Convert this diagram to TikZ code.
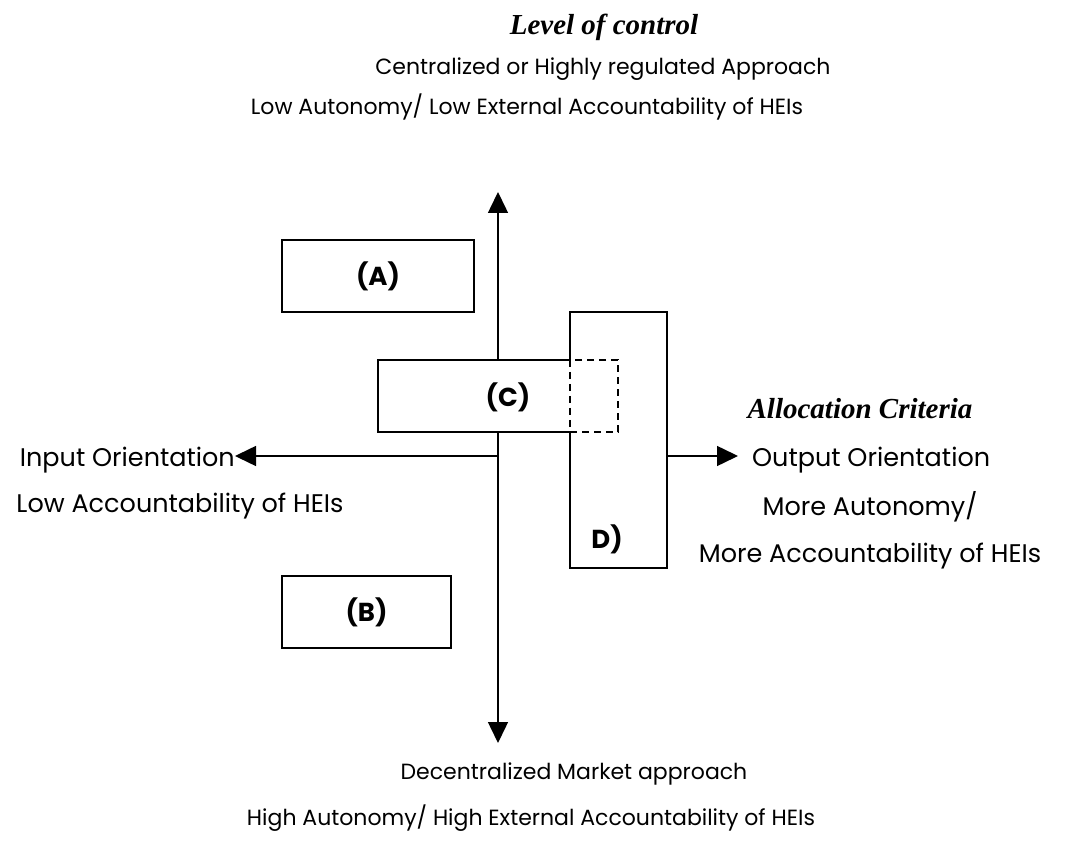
\documentclass[tikz,border=0pt]{standalone}
\usepackage{fontspec}
\setmainfont{Poppins}
\newfontfamily\headfont{Liberation Serif}
\usetikzlibrary{positioning,arrows.meta}

\begin{document}
\begin{tikzpicture}[
  x=1pt, y=-1pt,
  txt/.style={inner sep=0pt, font=\fontsize{22}{26}\selectfont},
  sidetxt/.style={inner sep=0pt, font=\fontsize{25.5}{30}\selectfont},
  head/.style={inner sep=0pt, font=\headfont\bfseries\itshape\fontsize{29}{34}\selectfont},
  quad/.style={draw, line width=1.5pt, fill=white, inner sep=0pt},
  tag/.style={inner sep=0pt, font=\bfseries\fontsize{26}{30}\selectfont},
  axis/.style={line width=1.5pt, -{Triangle[length=21pt, width=20pt]}}
]
  \useasboundingbox (0,0) rectangle (1072,858);

  % top labels
  \node[head, anchor=base] (lvl) at (604,35) {Level of control};
  \node[txt, anchor=base] (cent) at (603,75) {Centralized or Highly regulated Approach};
  \node[txt, anchor=base] (lowext) at (527,115) {Low Autonomy/ Low External Accountability of HEIs};

  % axes
  \coordinate (origin) at (498,456);
  \coordinate (uptip) at (498,192);
  \coordinate (downtip) at (498,743);
  \coordinate (lefttip) at (235,456);
  \coordinate (righttip) at (738,456);
  \draw[axis] (origin) -- (uptip);
  \draw[axis] (origin) -- (downtip);
  \draw[axis] (origin) -- (lefttip);

  % quadrant boxes
  \node[quad, minimum width=192pt, minimum height=72pt] (boxa) at (378,276) {};
  \node[tag] at (boxa.center) {(A)};
  \node[quad, minimum width=169pt, minimum height=72pt] (boxb) at (366.5,612) {};
  \node[tag] at (boxb.center) {(B)};
  \node[quad, minimum width=97pt, minimum height=256pt] (boxd) at (618.5,440) {};
  \node[tag] (dtag) at (607,539) {D)};
  \draw[axis] (boxd.east |- origin) -- (righttip);

  % C overlaps D
  \fill[white] (378,360) rectangle (618,432);
  \draw[line width=1.5pt] (570,360) -- (378,360) -- (378,432) -- (570,432);
  \draw[line width=1.5pt, dashed, dash pattern=on 7pt off 5pt] (570,360) rectangle (618,432);
  \node[tag] (ctag) at (508,397) {(C)};

  % side labels
  \node[sidetxt, anchor=base east] (input) at (235,467) {Input Orientation};
  \node[sidetxt, anchor=base] (lowacc) at (180,513) {Low Accountability of HEIs};
  \node[head, anchor=base] (alloc) at (860,419) {Allocation Criteria};
  \node[sidetxt, anchor=base west] (output) at (752,467) {Output Orientation};
  \node[sidetxt, anchor=base] (moreaut) at (870,516) {More Autonomy/};
  \node[sidetxt, anchor=base] (moreacc) at (870,563) {More Accountability of HEIs};

  % bottom labels
  \node[txt, anchor=base] (decent) at (574,779) {Decentralized Market approach};
  \node[txt, anchor=base] (highext) at (531,825) {High Autonomy/ High External Accountability of HEIs};
\end{tikzpicture}
\end{document}
